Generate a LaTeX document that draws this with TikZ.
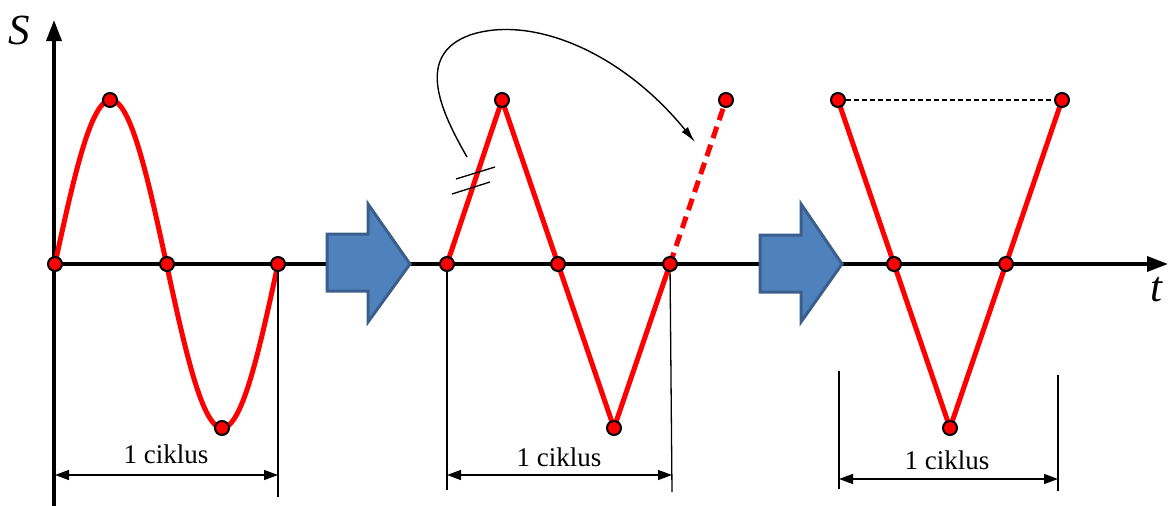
\documentclass[tikz,border=0pt]{standalone}
\usepackage{fontspec}
\setmainfont{Liberation Serif}
\usetikzlibrary{arrows.meta}
\definecolor{arrowfill}{HTML}{4F81BD}
\definecolor{arrowedge}{HTML}{3A5F8C}
\begin{document}
\begin{tikzpicture}[x=1pt,y=-1pt,
  axis/.style={line width=3.5pt,-{Triangle[length=21pt,width=15pt]}},
  wave/.style={red,line width=5pt,line join=round},
  dot/.style={circle,fill=red,draw=black,line width=2pt,inner sep=0pt,minimum size=14pt},
  thin/.style={line width=1.3pt},
  dim/.style={line width=1.3pt,{Triangle[length=14pt,width=10pt]}-{Triangle[length=14pt,width=10pt]}},
  lbl/.style={font=\fontsize{27}{30}\selectfont},
  bigarrow/.style={fill=arrowfill,draw=arrowedge,line width=3pt,line join=miter},
  axlbl/.style={font=\fontsize{43}{46}\selectfont\itshape}
]
\useasboundingbox (0,0) rectangle (1168,506);
% coordinates
\coordinate (O) at (54,264);
\coordinate (Ytop) at (54,20);
\coordinate (Ybot) at (54,506);
\coordinate (Xend) at (1168,264);
% axes
\draw[axis] (Ybot) -- (Ytop);
\draw[axis] (O) -- (Xend);
\node[axlbl] (S) at (19,30) {S};
\node[axlbl] (T) at (1156,290) {t};
% big arrows
\draw[bigarrow] (327,234) -- (368,234) -- (368,204) -- (410,264) -- (368,322) -- (368,291) -- (327,291) -- cycle;
\draw[bigarrow] (760,235) -- (801,235) -- (801,204) -- (842,264) -- (801,322) -- (801,292) -- (760,292) -- cycle;
% ---------- section 1
\coordinate (a1) at (55,264);
\coordinate (a2) at (110,100);
\coordinate (a3) at (167,264);
\coordinate (a4) at (222,428);
\coordinate (a5) at (278,264);
\draw[wave,domain=0:360,samples=120,smooth] plot ({55+0.61944*\x},{264-164*sin(\x)});
\coordinate (v1b) at (278,497);
\draw[thin] (a5) -- (v1b);
\coordinate (d1l) at (55,475);
\coordinate (d1r) at (278,475);
\draw[dim] (d1l) -- (d1r);
\node[lbl] (c1) at (166,454) {1 ciklus};
% ---------- section 2
\coordinate (b1) at (447,264);
\coordinate (b2) at (502,100);
\coordinate (b3) at (558,264);
\coordinate (b4) at (614,428);
\coordinate (b5) at (670,264);
\coordinate (b6) at (726,100);
\coordinate (v2l) at (447,490);
\coordinate (v2r) at (672,492);
\draw[thin] (b1) -- (v2l);
\draw[thin] (b5) -- (v2r);
\draw[wave] (b1) -- (b2) -- (b3) -- (b4) -- (b5);
\draw[wave,line cap=butt,dash pattern=on 12pt off 7pt] (b5) -- (b6);
\coordinate (d2l) at (447,475);
\coordinate (d2r) at (672,475);
\draw[dim] (d2l) -- (d2r);
\node[lbl] (c2) at (559,457) {1 ciklus};
% curved arrow and tick marks
\coordinate (cs) at (467,157);
\coordinate (ce) at (695,142);
\draw[line width=1.4pt,-{Latex[length=16pt,width=8pt]}] (cs) .. controls (440,110) and (415,55) .. (470,35) .. controls (530,15) and (620,50) .. (ce);
\coordinate (m1a) at (456,179);
\coordinate (m1b) at (495,167);
\coordinate (m2a) at (452,194);
\coordinate (m2b) at (490,182);
\draw[thin] (m1a) -- (m1b);
\draw[thin] (m2a) -- (m2b);
% ---------- section 3
\coordinate (e1) at (838,100);
\coordinate (e2) at (894,264);
\coordinate (e3) at (950,428);
\coordinate (e4) at (1006,264);
\coordinate (e5) at (1062,100);
\draw[line width=1.4pt,dash pattern=on 5pt off 3pt] (e1) -- (e5);
\draw[wave] (e1) -- (e2) -- (e3) -- (e4) -- (e5);
\coordinate (v3lt) at (839,371);
\coordinate (v3lb) at (839,489);
\coordinate (v3rt) at (1058,375);
\coordinate (v3rb) at (1058,491);
\draw[thin] (v3lt) -- (v3lb);
\draw[thin] (v3rt) -- (v3rb);
\coordinate (d3l) at (839,479);
\coordinate (d3r) at (1058,479);
\draw[dim] (d3l) -- (d3r);
\node[lbl] (c3) at (947,460) {1 ciklus};
% dots
\foreach \p in {a1,a2,a3,a4,a5,b1,b2,b3,b4,b5,b6,e1,e2,e3,e4,e5}
  \node[dot] at (\p) {};
\end{tikzpicture}
\end{document}
